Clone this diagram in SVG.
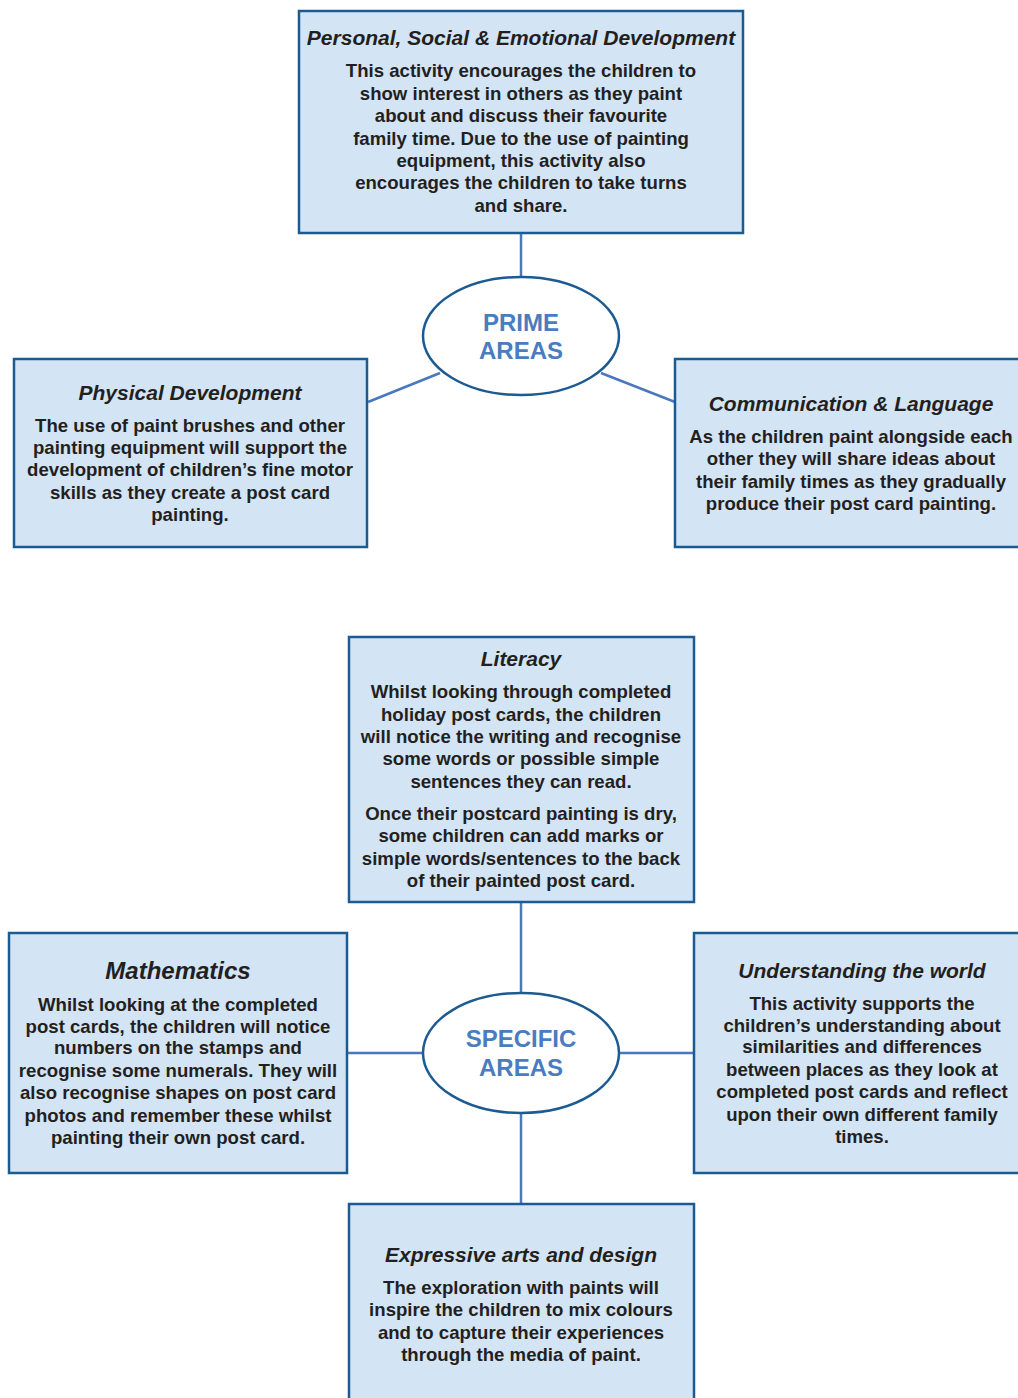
<svg xmlns="http://www.w3.org/2000/svg" width="1018" height="1398" viewBox="0 0 1018 1398">
<style>
.box{fill:#d3e4f5;stroke:#1c5a92;stroke-width:2.5}
.ell{fill:#ffffff;stroke:#1c5a92;stroke-width:2.5}
.con{stroke:#4a78bf;stroke-width:2.5;fill:none}
.t{font-family:"Liberation Sans",Arial,sans-serif;font-weight:bold;font-style:italic;font-size:21px;fill:#231f20;text-anchor:middle}
.b{font-family:"Liberation Sans",Arial,sans-serif;font-weight:bold;font-size:18.6px;fill:#231f20;text-anchor:middle}
.e{font-family:"Liberation Sans",Arial,sans-serif;font-weight:bold;font-size:24px;fill:#4a7cc0;text-anchor:middle}
</style>
<rect width="1018" height="1398" fill="#ffffff"/>
<g id="connectors">
<line class="con" x1="521" y1="233" x2="521" y2="277"/>
<line class="con" x1="368" y1="402" x2="440" y2="373"/>
<line class="con" x1="601" y1="373" x2="675" y2="402"/>
<line class="con" x1="521" y1="902" x2="521" y2="993"/>
<line class="con" x1="347" y1="1053" x2="423" y2="1053"/>
<line class="con" x1="619" y1="1053" x2="694" y2="1053"/>
<line class="con" x1="521" y1="1113" x2="521" y2="1204"/>
</g>
<g id="psed">
<rect class="box" x="299" y="11" width="444" height="222"/>
<text class="t" x="521" y="45">Personal, Social &amp; Emotional Development</text>
<text class="b" x="521" y="77">This activity encourages the children to</text>
<text class="b" x="521" y="100">show interest in others as they paint</text>
<text class="b" x="521" y="122">about and discuss their favourite</text>
<text class="b" x="521" y="145">family time. Due to the use of painting</text>
<text class="b" x="521" y="167">equipment, this activity also</text>
<text class="b" x="521" y="189">encourages the children to take turns</text>
<text class="b" x="521" y="212">and share.</text>
</g>
<g id="prime">
<ellipse class="ell" cx="521" cy="336" rx="98" ry="59"/>
<text class="e" x="521" y="331">PRIME</text>
<text class="e" x="521" y="359">AREAS</text>
</g>
<g id="physical">
<rect class="box" x="14" y="359" width="353" height="188"/>
<text class="t" x="190" y="400">Physical Development</text>
<text class="b" x="190" y="432">The use of paint brushes and other</text>
<text class="b" x="190" y="454">painting equipment will support the</text>
<text class="b" x="190" y="476">development of children’s fine motor</text>
<text class="b" x="190" y="499">skills as they create a post card</text>
<text class="b" x="190" y="521">painting.</text>
</g>
<g id="communication">
<rect class="box" x="675" y="359" width="350" height="188"/>
<text class="t" x="851" y="411">Communication &amp; Language</text>
<text class="b" x="851" y="443">As the children paint alongside each</text>
<text class="b" x="851" y="465">other they will share ideas about</text>
<text class="b" x="851" y="488">their family times as they gradually</text>
<text class="b" x="851" y="510">produce their post card painting.</text>
</g>
<g id="literacy">
<rect class="box" x="349" y="637" width="345" height="265"/>
<text class="t" x="521" y="666">Literacy</text>
<text class="b" x="521" y="698">Whilst looking through completed</text>
<text class="b" x="521" y="721">holiday post cards, the children</text>
<text class="b" x="521" y="743">will notice the writing and recognise</text>
<text class="b" x="521" y="765">some words or possible simple</text>
<text class="b" x="521" y="788">sentences they can read.</text>
<text class="b" x="521" y="820">Once their postcard painting is dry,</text>
<text class="b" x="521" y="842">some children can add marks or</text>
<text class="b" x="521" y="865">simple words/sentences to the back</text>
<text class="b" x="521" y="887">of their painted post card.</text>
</g>
<g id="specific">
<ellipse class="ell" cx="521" cy="1053" rx="98" ry="60"/>
<text class="e" x="521" y="1047">SPECIFIC</text>
<text class="e" x="521" y="1076">AREAS</text>
</g>
<g id="mathematics">
<rect class="box" x="9" y="933" width="338" height="240"/>
<text class="t" x="178" y="979" style="font-size:24px">Mathematics</text>
<text class="b" x="178" y="1011">Whilst looking at the completed</text>
<text class="b" x="178" y="1033">post cards, the children will notice</text>
<text class="b" x="178" y="1054">numbers on the stamps and</text>
<text class="b" x="178" y="1077">recognise some numerals. They will</text>
<text class="b" x="178" y="1099">also recognise shapes on post card</text>
<text class="b" x="178" y="1122">photos and remember these whilst</text>
<text class="b" x="178" y="1144">painting their own post card.</text>
</g>
<g id="understanding">
<rect class="box" x="694" y="933" width="330" height="240"/>
<text class="t" x="862" y="978">Understanding the world</text>
<text class="b" x="862" y="1010">This activity supports the</text>
<text class="b" x="862" y="1032">children’s understanding about</text>
<text class="b" x="862" y="1053">similarities and differences</text>
<text class="b" x="862" y="1076">between places as they look at</text>
<text class="b" x="862" y="1098">completed post cards and reflect</text>
<text class="b" x="862" y="1121">upon their own different family</text>
<text class="b" x="862" y="1143">times.</text>
</g>
<g id="expressive">
<rect class="box" x="349" y="1204" width="345" height="210"/>
<text class="t" x="521" y="1262">Expressive arts and design</text>
<text class="b" x="521" y="1294">The exploration with paints will</text>
<text class="b" x="521" y="1316">inspire the children to mix colours</text>
<text class="b" x="521" y="1339">and to capture their experiences</text>
<text class="b" x="521" y="1361">through the media of paint.</text>
</g>
</svg>
